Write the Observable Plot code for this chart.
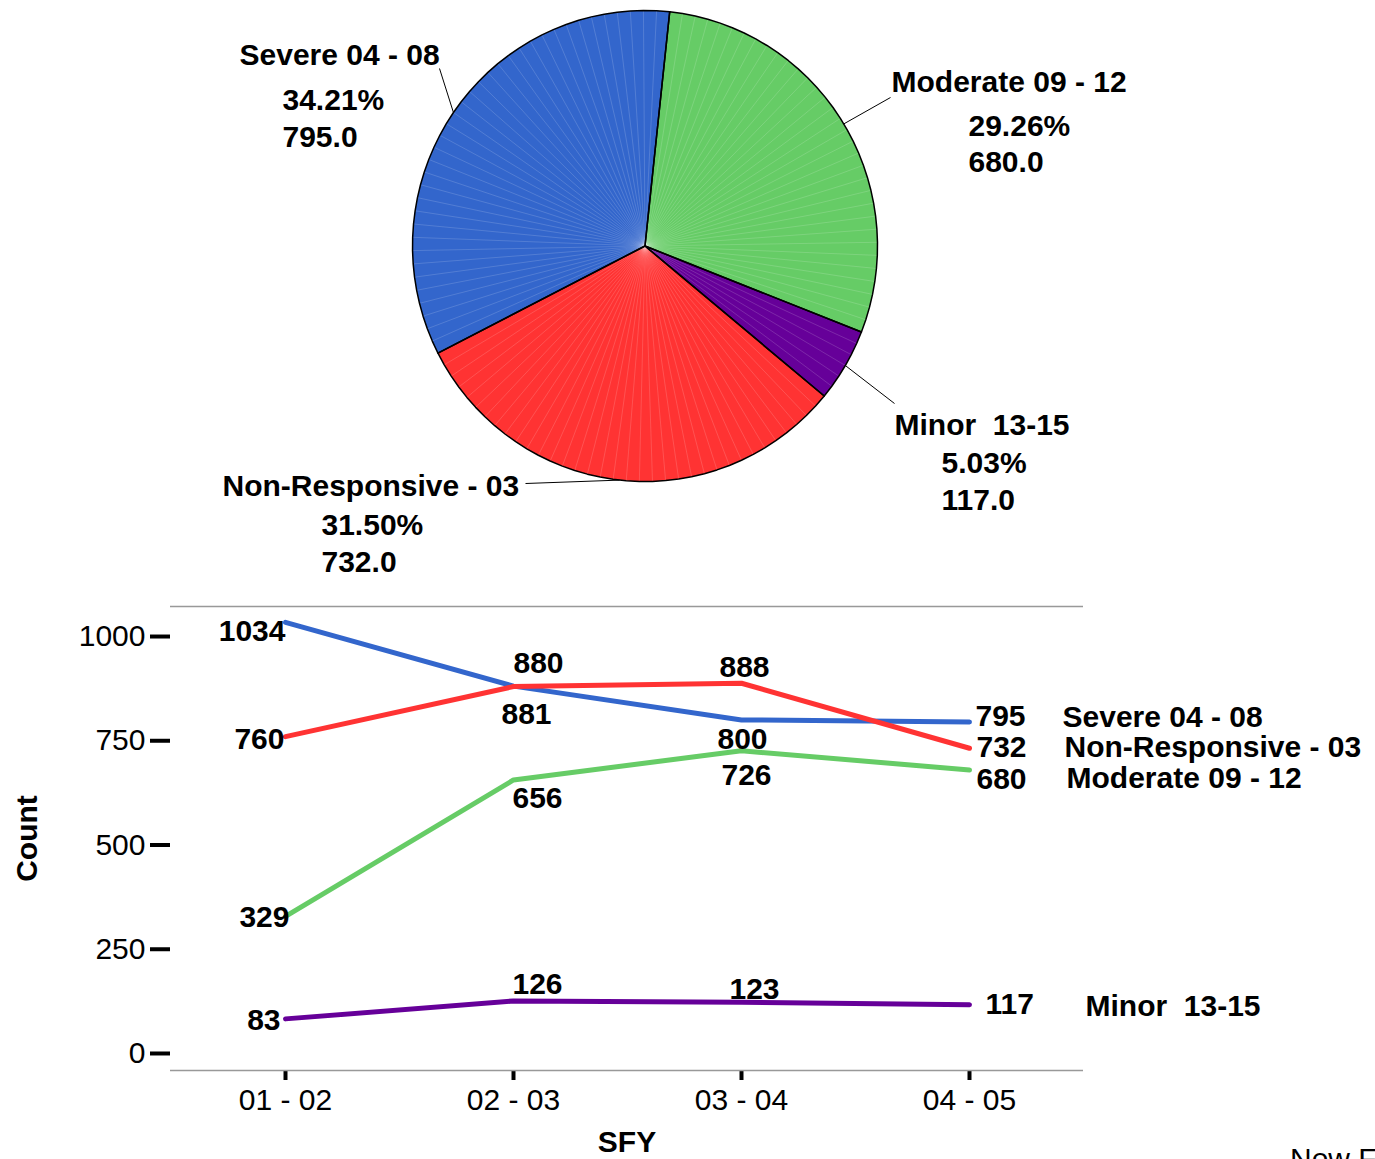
<!DOCTYPE html>
<html>
<head>
<meta charset="utf-8">
<script src="https://cdn.jsdelivr.net/npm/d3@7"></script>
<script src="https://cdn.jsdelivr.net/npm/@observablehq/plot@0.6"></script>
<style>
  body { margin: 0; background: #fff; }
  #wrap { position: relative; width: 1375px; height: 1159px; overflow: hidden; background: #fff;
          font-family: "Liberation Sans", Arial, sans-serif; }
  #pie, #line { position: absolute; left: 0; }
  #pie { top: 0; }
  #line { top: 590px; }
  #note { position: absolute; left: 1290px; top: 1142px; font-size: 30px; white-space: nowrap; color: #000; }
  svg text { white-space: pre; }
  #line svg g[aria-label^="y-axis"] path, #line svg g[aria-label^="y-axis"] line { stroke-width: 4px; }
  #line svg g[aria-label^="x-axis"] path, #line svg g[aria-label^="x-axis"] line { stroke-width: 4px; }
</style>
</head>
<body>
<div id="wrap">
  <div id="pie"></div>
  <div id="line"></div>
  <div id="note">New F</div>
</div>
<script>
// ---------- data ----------
const sfy = ["01 - 02", "02 - 03", "03 - 04", "04 - 05"];
const seriesNames = ["Severe 04 - 08", "Non-Responsive - 03", "Moderate 09 - 12", "Minor  13-15"];
const severeCounts = [1034, 881, 800, 795];
const nonResponsiveCounts = [760, 880, 888, 732];
const moderateCounts = [329, 656, 726, 680];
const minorCounts = [83, 126, 123, 117];
const yTicks = [0, 250, 500, 750, 1000];
const pieCategories = ["Moderate 09 - 12", "Minor  13-15", "Non-Responsive - 03", "Severe 04 - 08"];
const pieValues = [680, 117, 732, 795];
const seriesColors = ["#3366CC", "#FF3333", "#66CC66", "#660099"];

// ---------- layout (pixels) ----------
const FONT = '"Liberation Sans", Arial, Helvetica, sans-serif';
const PIE = {cx: 644.5, cy: 245.5, rx: 232.5, ry: 235.5, width: 1375, height: 590, startDeg: 6.1};
const pieLabelLayout = {
  "Severe 04 - 08":      {name: [239, 55],  detail: [282, 100, 137], leader: [439, 68]},
  "Moderate 09 - 12":    {name: [891, 82],  detail: [968, 126, 162], leader: [890, 97]},
  "Minor  13-15":        {name: [894, 425], detail: [941, 463, 500], leader: [894, 403]},
  "Non-Responsive - 03": {name: [222, 486], detail: [321, 525, 562], leader: [525, 483]}
};
// value-label placement per series: [anchor, dx, dy] for each SFY
const valueLabelLayout = [
  [["end", 0, 9],  ["middle", 13, 28],  ["middle", 1, 19],   ["start", 6, -6]],
  [["end", -1, 3], ["middle", 25, -23], ["middle", 3, -16],  ["start", 7, -1]],
  [["end", 4, 1],  ["middle", 24, 18],  ["middle", 5, 25],   ["start", 7, 9]],
  [["end", -5, 2], ["middle", 24, -17], ["middle", 13, -13], ["start", 16, 0]]
];
const nameLabelLayout = [[93, -5], [95, -1], [97, 8], [116, 2]];

// ---------- pie ----------
const fx = px => (px - PIE.cx) / PIE.rx;
const fy = py => (PIE.cy - py) / PIE.ry;
const total = d3.sum(pieValues);
const start = PIE.startDeg * Math.PI / 180;
const arcs = d3.pie().sort(null).startAngle(start).endAngle(start + 2 * Math.PI)(pieValues);
const step = 2 * Math.PI / 110;
const poly = [], spokes = [], leaders = [], pieText = [];
arcs.forEach((a, i) => {
  const cat = pieCategories[i];
  const n = Math.max(2, Math.ceil((a.endAngle - a.startAngle) / step));
  poly.push({cat, px: 0, py: 0});
  for (let k = 0; k <= n; k++) {
    const t = a.startAngle + (a.endAngle - a.startAngle) * k / n;
    const p = {cat, px: Math.sin(t), py: Math.cos(t)};
    poly.push(p);
    if (k > 0 && k < n) spokes.push(p);
  }
  const mid = (a.startAngle + a.endAngle) / 2;
  const L = pieLabelLayout[cat];
  leaders.push({x1: Math.sin(mid), y1: Math.cos(mid), x2: fx(L.leader[0]), y2: fy(L.leader[1])});
  pieText.push({x: fx(L.name[0]), y: fy(L.name[1]), text: cat});
  pieText.push({x: fx(L.detail[0]), y: fy(L.detail[1]), text: (pieValues[i] / total * 100).toFixed(2) + "%"});
  pieText.push({x: fx(L.detail[0]), y: fy(L.detail[2]), text: pieValues[i].toFixed(1)});
});

const piePlot = Plot.plot({
  width: PIE.width, height: PIE.height, margin: 0,
  x: {domain: [-1, 1], range: [PIE.cx - PIE.rx, PIE.cx + PIE.rx], axis: null},
  y: {domain: [-1, 1], range: [PIE.cy + PIE.ry, PIE.cy - PIE.ry], axis: null},
  color: {domain: seriesNames, range: seriesColors},
  style: {fontFamily: FONT, fontSize: "30px", background: "white", overflow: "visible", color: "black"},
  marks: [
    Plot.line(poly, {x: "px", y: "py", z: "cat", fill: "cat", stroke: "none", curve: "linear-closed"}),
    Plot.link(spokes, {x1: 0, y1: 0, x2: "px", y2: "py", stroke: "white", strokeOpacity: 0.22, strokeWidth: 0.7}),
    Plot.line(poly, {x: "px", y: "py", z: "cat", fill: "none", stroke: "black", strokeWidth: 1.5, curve: "linear-closed"}),
    Plot.link(leaders, {x1: "x1", y1: "y1", x2: "x2", y2: "y2", stroke: "black", strokeWidth: 1}),
    Plot.text(pieText, {x: "x", y: "y", text: "text", textAnchor: "start", fontWeight: "bold", fontSize: 30, fill: "black"})
  ]
});
document.getElementById("pie").appendChild(piePlot);

// ---------- line chart ----------
const seriesValues = [severeCounts, nonResponsiveCounts, moderateCounts, minorCounts];
const lineData = [];
seriesNames.forEach((s, i) => seriesValues[i].forEach((v, j) => lineData.push({series: s, sfy: sfy[j], count: v, si: i, j})));
const yDomain = [-40.8, 1072];

const labelMarks = [];
lineData.forEach(d => {
  const [anchor, dx, dy] = valueLabelLayout[d.si][d.j];
  labelMarks.push(Plot.text([d], {x: "sfy", y: "count", text: d => String(d.count), textAnchor: anchor, dx, dy,
    fontWeight: "bold", fontSize: 30, fill: "black"}));
});
lineData.filter(d => d.j === sfy.length - 1).forEach(d => {
  const [dx, dy] = nameLabelLayout[d.si];
  labelMarks.push(Plot.text([d], {x: "sfy", y: "count", text: "series", textAnchor: "start", dx, dy,
    fontWeight: "bold", fontSize: 30, fill: "black"}));
});

const linePlot = Plot.plot({
  width: 1375, height: 569,
  marginLeft: 170, marginRight: 292, marginTop: 16, marginBottom: 89,
  x: {type: "point", domain: sfy, padding: 0.5, tickSize: 10, tickPadding: 8, label: null},
  y: {domain: yDomain, ticks: yTicks, tickFormat: d => String(d), tickSize: 20, tickPadding: 5, label: null},
  color: {domain: seriesNames, range: seriesColors},
  style: {fontFamily: FONT, fontSize: "30px", background: "white", overflow: "visible", color: "black"},
  marks: [
    Plot.ruleY(yDomain, {stroke: "#999", strokeWidth: 1.5}),
    Plot.line(lineData, {x: "sfy", y: "count", z: "series", stroke: "series", strokeWidth: 5,
      strokeLinecap: "round", strokeLinejoin: "round"}),
    ...labelMarks,
    Plot.text(["Count"], {frameAnchor: "left", textAnchor: "middle", dx: -143, rotate: -90, fontWeight: "bold", fontSize: 30, fill: "black"}),
    Plot.text(["SFY"], {frameAnchor: "bottom", dy: 81, fontWeight: "bold", fontSize: 30, fill: "black"})
  ]
});
document.getElementById("line").appendChild(linePlot);
</script>
</body>
</html>
